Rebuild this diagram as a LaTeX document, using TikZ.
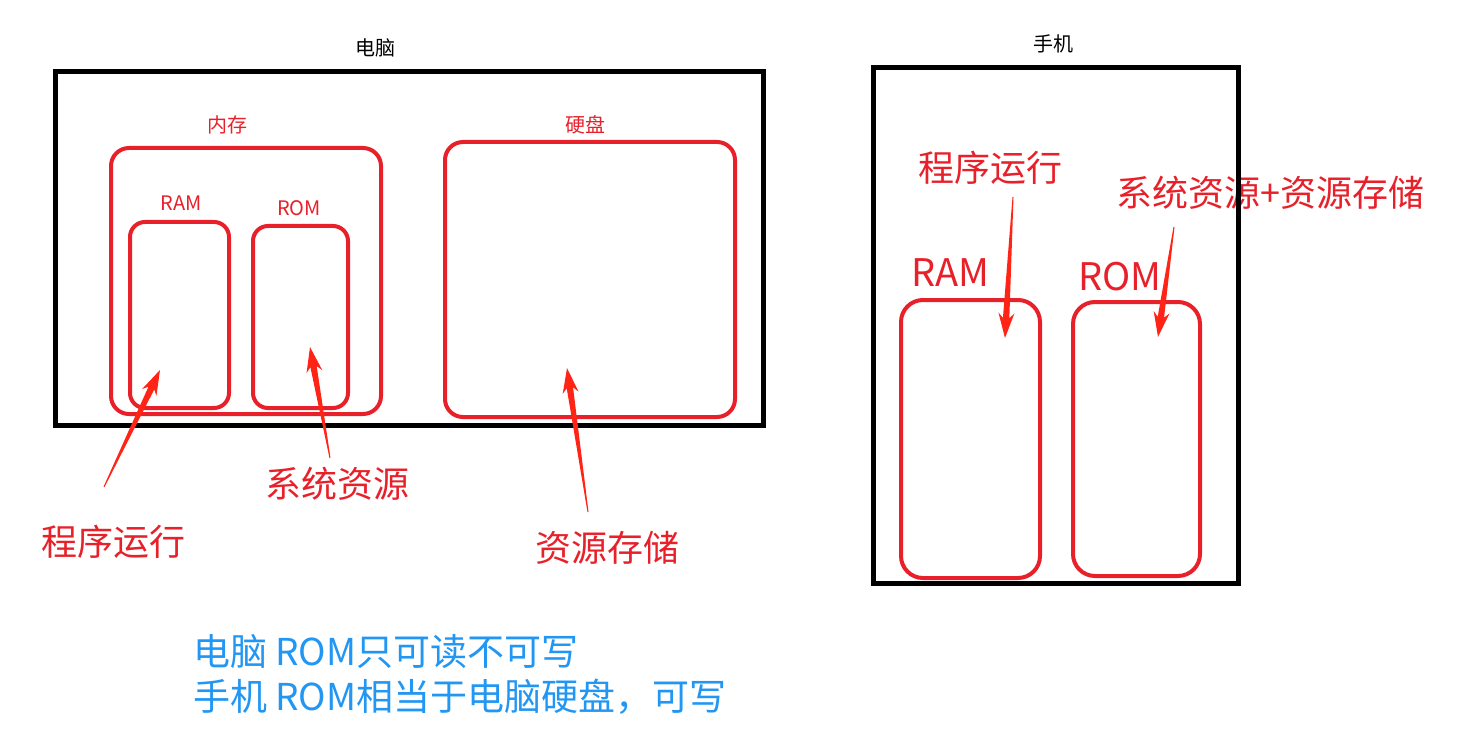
\documentclass[tikz,border=0pt]{standalone}
\usepackage{fontspec}
\setmainfont{Noto Sans CJK SC}
\usetikzlibrary{calc,positioning}
\definecolor{BoxRed}{HTML}{E8202A}
\definecolor{ArrowRed}{HTML}{FF2415}
\definecolor{NoteBlue}{HTML}{2196F3}

% tapered arrow, thin at the tail and wide at the head
\newcommand{\taperarrow}[2]{%
  \fill[ArrowRed] let \p1=($(#2)-(#1)$), \n1={atan2(\y1,\x1)}, \n2={veclen(\x1,\y1)} in
    [shift={(#1)},rotate=\n1] (0pt,0.5pt) -- ({\n2*1pt-20pt},3.2pt) -- ({\n2*1pt-25pt},8pt)
    -- ({\n2*1pt},0pt) -- ({\n2*1pt-25pt},-8pt) -- ({\n2*1pt-20pt},-3.2pt) -- (0pt,-0.5pt) -- cycle;}

\tikzset{
  frame/.style={draw=black,line width=5pt,inner sep=0pt},
  part/.style={draw=BoxRed,line width=4pt,rounded corners=18pt,inner sep=0pt},
  title/.style={inner sep=0pt,font=\fontsize{20}{24}\selectfont},
  tag/.style={title,text=BoxRed},
  big/.style={inner sep=0pt,text=BoxRed,font=\fontsize{36}{40}\selectfont},
}

\begin{document}
\begin{tikzpicture}[x=1pt,y=-1pt]
    \useasboundingbox (0,0) rectangle (1459,754);

    % computer
    \node[title] (pctitle) at (375,48) {电脑};
    \node[frame,minimum width=708pt,minimum height=353pt] (pc) at (409,248.5) {};
    \node[tag] (memtitle) at (227,125) {内存};
    \node[part,minimum width=270pt,minimum height=266pt] (mem) at (246,281) {};
    \node[tag] (ramtitle) at (181,203) {RAM};
    \node[part,rounded corners=15pt,minimum width=99pt,minimum height=186pt] (ram) at (179.5,315) {};
    \node[tag] (romtitle) at (299,208) {ROM};
    \node[part,rounded corners=15pt,minimum width=95pt,minimum height=182pt] (rom) at (300.5,317) {};
    \node[tag] (disktitle) at (585,125) {硬盘};
    \node[part,minimum width=290pt,minimum height=275pt] (disk) at (590,279.5) {};

    \node[big] (run) at (113,542) {程序运行};
    \node[big] (sys) at (337,484) {系统资源};
    \node[big] (store) at (607,548) {资源存储};

    \coordinate (runtail) at (104,487);
    \coordinate (runtip) at (160,370);
    \coordinate (systail) at (330,458);
    \coordinate (systip) at (310,347);
    \coordinate (storetail) at (588,512);
    \coordinate (storetip) at (567,368);
    \taperarrow{runtail}{runtip}
    \taperarrow{systail}{systip}
    \taperarrow{storetail}{storetip}

    % phone
    \node[title] (phonetitle) at (1053,44) {手机};
    \node[big] (prun) at (990,168) {程序运行};
    \node[big] (psys) at (1270,193) {系统资源+资源存储};
    \node[frame,minimum width=365pt,minimum height=515pt] (phone) at (1055.5,325.5) {};
    \node[big,font=\fontsize{38}{42}\selectfont] (pramtitle) at (950,273) {RAM};
    \node[part,rounded corners=22pt,minimum width=139pt,minimum height=278pt] (pram) at (970.5,439) {};
    \node[big,font=\fontsize{38}{42}\selectfont] (promtitle) at (1120,277) {ROM};
    \node[part,rounded corners=22pt,minimum width=127pt,minimum height=274pt] (prom) at (1136.5,439) {};

    \coordinate (pruntail) at (1013,197);
    \coordinate (pruntip) at (1005,338);
    \coordinate (psystail) at (1174,227);
    \coordinate (psystip) at (1158,337);
    \taperarrow{pruntail}{pruntip}
    \taperarrow{psystail}{psystip}

    % note
    \node[inner sep=0pt,anchor=west,align=left,text=NoteBlue,font=\fontsize{37}{45}\selectfont] (note) at (193,674.5)
      {电脑 ROM只可读不可写\\手机 ROM相当于电脑硬盘，可写};
  \end{tikzpicture}
\end{document}
